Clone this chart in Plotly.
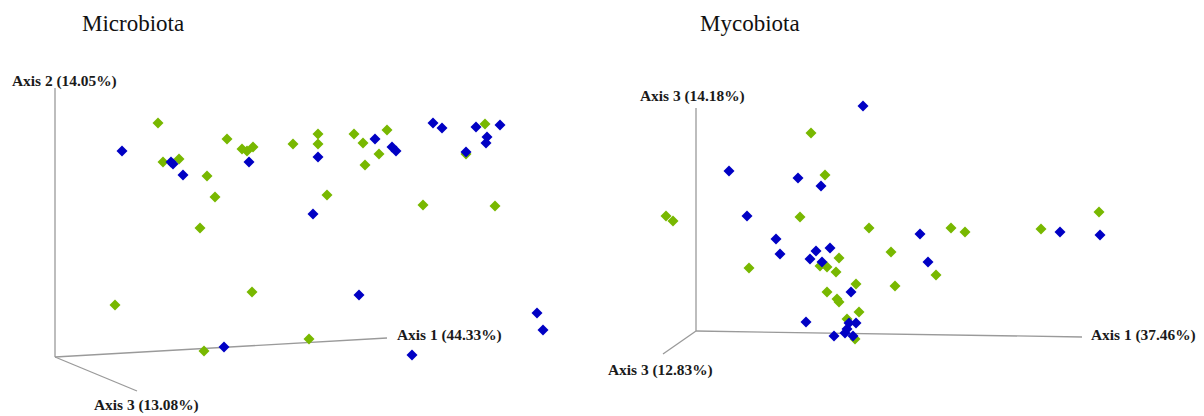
import plotly.graph_objects as go

# Projected PCoA coordinates (screen-projected positions of each sample)
# ---- Microbiota ----
micro_green_x = [158, 227, 242, 247, 253, 293, 163, 179, 207, 215, 200, 318, 318, 354, 363, 387, 379, 365,
                 485, 466, 327, 423, 495, 115, 252, 204, 309]
micro_green_y = [123, 139, 149, 151, 147, 144, 162, 159, 176, 197, 228, 134, 144, 134, 143, 130, 154, 165,
                 124, 154, 195, 205, 206, 305, 292, 351, 339]
micro_blue_x = [122, 171, 173, 183, 249, 318, 375, 392, 396, 433, 442, 476, 500, 487, 486, 466, 313,
                224, 359, 412, 537, 543]
micro_blue_y = [151, 162, 164, 175, 162, 157, 139, 147, 151, 123, 128, 127, 125, 137, 143, 152, 214,
                347, 295, 355, 313, 330]

# ---- Mycobiota ----
myco_green_x = [811, 825, 666, 673, 800, 869, 891, 839, 820, 827, 836, 856, 827, 837, 839, 859, 847,
                855, 749, 895, 936, 951, 965, 1041, 1099]
myco_green_y = [133, 175, 216, 221, 217, 228, 252, 258, 266, 267, 272, 284, 292, 299, 302, 312, 319,
                339, 268, 286, 275, 228, 232, 229, 212]
myco_blue_x = [863, 729, 798, 821, 747, 776, 780, 816, 830, 810, 822, 851, 806, 849, 856, 847, 845,
               834, 853, 920, 928, 1060, 1100]
myco_blue_y = [106, 171, 178, 186, 216, 239, 254, 251, 248, 259, 262, 292, 322, 323, 323, 329, 333,
               336, 336, 234, 262, 232, 235]

# Axis frame lines (projected)
micro_origin = (55, 357)
micro_axis_ends = {"ax2": (55, 88), "ax1": (387, 338), "ax3": (137, 391)}
myco_origin = (696, 331)
myco_axis_ends = {"ax3v": (696, 108), "ax1": (1082, 337), "ax3": (663, 354)}

titles = ["Microbiota", "Mycobiota"]
title_pos = [(80, 23), (698, 23)]
axis_labels = ["Axis 2 (14.05%)", "Axis 1 (44.33%)", "Axis 3 (13.08%)",
               "Axis 3 (14.18%)", "Axis 1 (37.46%)", "Axis 3 (12.83%)"]
axis_label_pos = [(10, 81), (395, 335), (92, 405), (638, 96), (1089, 335), (606, 370)]

GREEN = "#78b800"
BLUE = "#0000c4"
AXCOL = "#9a9a9a"

fig = go.Figure()

for origin, ends in [(micro_origin, micro_axis_ends), (myco_origin, myco_axis_ends)]:
    for end in ends.values():
        fig.add_trace(go.Scatter(x=[origin[0], end[0]], y=[origin[1], end[1]], mode="lines",
                                 line=dict(color=AXCOL, width=1.3), hoverinfo="skip", showlegend=False))

for xs, ys, c in [(micro_green_x, micro_green_y, GREEN), (micro_blue_x, micro_blue_y, BLUE),
                  (myco_green_x, myco_green_y, GREEN), (myco_blue_x, myco_blue_y, BLUE)]:
    fig.add_trace(go.Scatter(x=xs, y=ys, mode="markers",
                             marker=dict(symbol="diamond", size=8.5, color=c, line=dict(width=0)),
                             showlegend=False))

for t, (x, y) in zip(titles, title_pos):
    fig.add_annotation(x=x, y=y, text=t, showarrow=False, xanchor="left", yanchor="middle",
                       font=dict(family="Liberation Serif", size=23, color="#111"))

for t, (x, y) in zip(axis_labels, axis_label_pos):
    fig.add_annotation(x=x, y=y, text="<b>" + t + "</b>", showarrow=False, xanchor="left",
                       yanchor="middle", font=dict(family="Liberation Serif", size=15.4, color="#1a1a1a"))

# the page body has an 8px margin: the figure spans page pixels 8..1204 x 8..416
fig.update_xaxes(range=[8, 1204], visible=False, fixedrange=True)
fig.update_yaxes(range=[416, 8], visible=False, fixedrange=True)
fig.update_layout(width=1196, height=408, margin=dict(l=0, r=0, t=0, b=0),
                  plot_bgcolor="white", paper_bgcolor="white")

fig.write_html("out.html")
